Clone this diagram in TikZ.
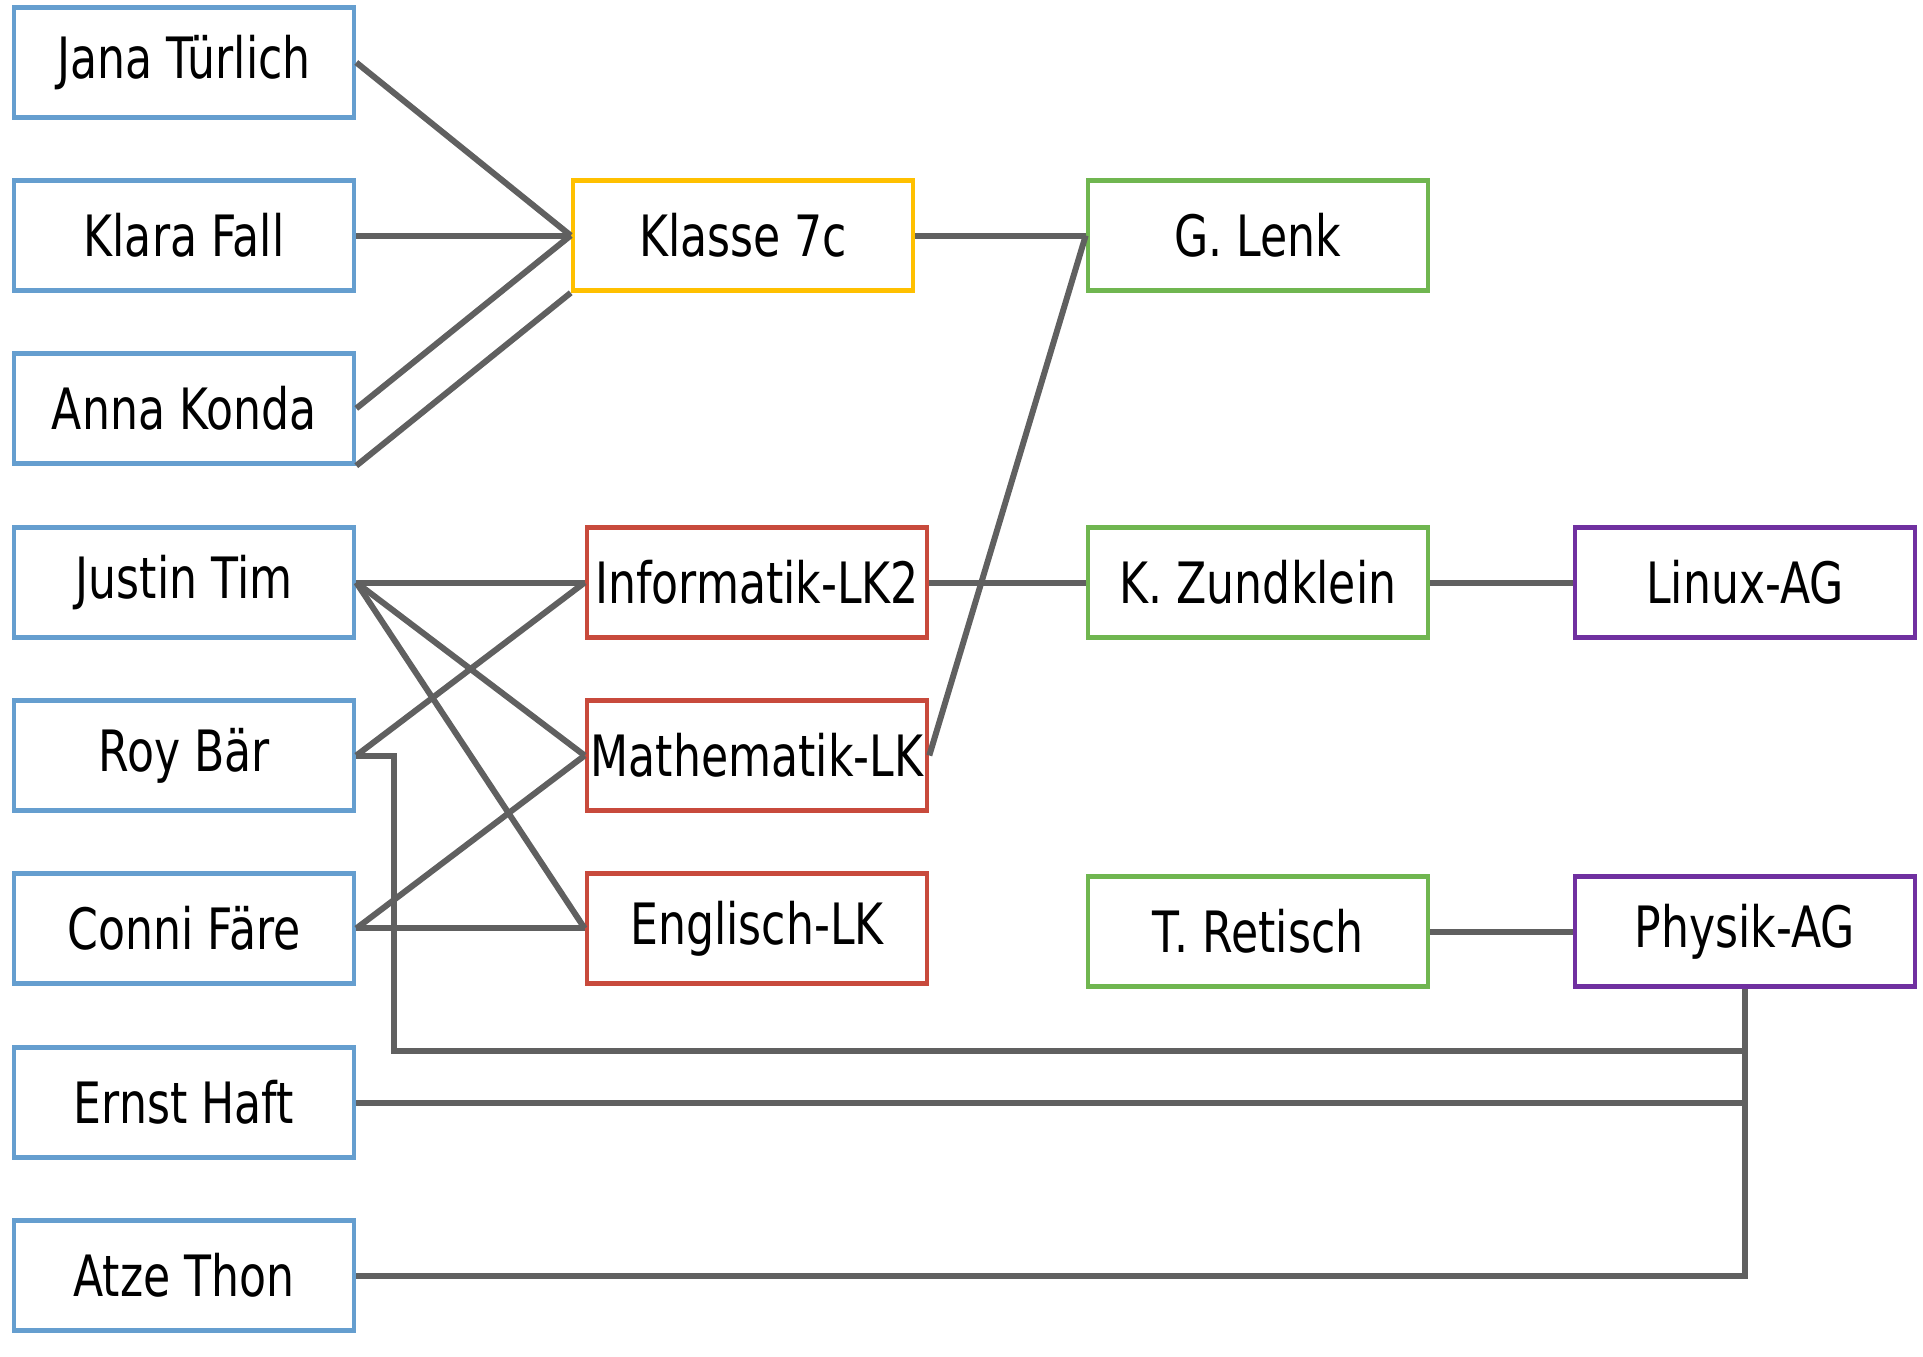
\documentclass[tikz,border=0pt]{standalone}
\usepackage{fontspec}
\setmainfont[FakeStretch=0.775]{DejaVu Sans}
\definecolor{cBlue}{HTML}{659ECF}
\definecolor{cYellow}{HTML}{FFC000}
\definecolor{cRed}{HTML}{C84A3C}
\definecolor{cGreen}{HTML}{70B650}
\definecolor{cPurple}{HTML}{7030A0}
\definecolor{cLine}{HTML}{606060}
\begin{document}
\begin{tikzpicture}[x=0.5pt,y=-0.5pt,
  box/.style={draw, line width=2.3pt, minimum width=170pt, minimum height=55pt,
    inner sep=0pt, fill=white, font=\fontsize{28.5}{34}\selectfont},
  pupil/.style={box, draw=cBlue},
  klasse/.style={box, draw=cYellow},
  kurs/.style={box, draw=cRed},
  lehrer/.style={box, draw=cGreen},
  ag/.style={box, draw=cPurple},
  link/.style={draw=cLine, line width=3pt}]
\useasboundingbox (0,0) rectangle (1923,1356);
% pupils
\node[pupil] (jana)   at (184,62.5)   {Jana Türlich};
\node[pupil] (klara)  at (184,235.5)  {Klara Fall};
\node[pupil] (anna)   at (184,408.4)  {Anna Konda};
\node[pupil] (justin) at (184,582.5)  {Justin Tim};
\node[pupil] (roy)    at (184,755.5)  {Roy Bär};
\node[pupil] (conni)  at (184,928.4)  {Conni Färe};
\node[pupil] (ernst)  at (184,1102.5) {Ernst Haft};
\node[pupil] (atze)   at (184,1275.5) {Atze Thon};
% class and courses
\node[klasse] (k7c)  at (743,235.5) {Klasse 7c};
\node[kurs] (inf)    at (757,582.5) {Informatik-LK2};
\node[kurs] (mathe)  at (757,755.5) {Mathematik-LK};
\node[kurs] (engl)   at (757,928.4) {Englisch-LK};
% teachers
\node[lehrer] (lenk)  at (1258,235.5) {G. Lenk};
\node[lehrer] (zund)  at (1258,582.5) {K. Zundklein};
\node[lehrer] (ret)   at (1258,931.5) {T. Retisch};
% AGs
\node[ag] (linux)  at (1745,582.5) {Linux-AG};
\node[ag] (physik) at (1745,931.5) {Physik-AG};
% connectors
\coordinate (rk) at (394,1051);
\draw[link] (jana.east) -- (k7c.west);
\draw[link] (klara.east) -- (k7c.west);
\draw[link] (anna.east) -- (k7c.west);
\draw[link] (anna.south east) -- (k7c.south west);
\draw[link] (k7c.east) -- (lenk.west);
\draw[link] (justin.east) -- (inf.west);
\draw[link] (justin.east) -- (mathe.west);
\draw[link] (justin.east) -- (engl.west);
\draw[link] (roy.east) -- (inf.west);
\draw[link] (conni.east) -- (mathe.west);
\draw[link] (conni.east) -- (engl.west);
\draw[link] (inf.east) -- (zund.west);
\draw[link] (mathe.east) -- (lenk.west);
\draw[link] (zund.east) -- (linux.west);
\draw[link] (ret.east) -- (physik.west);
\draw[link] (roy.east) -| (rk) -| (physik.south);
\draw[link] (ernst.east) -| (physik.south);
\draw[link] (atze.east) -| (physik.south);
\end{tikzpicture}
\end{document}
